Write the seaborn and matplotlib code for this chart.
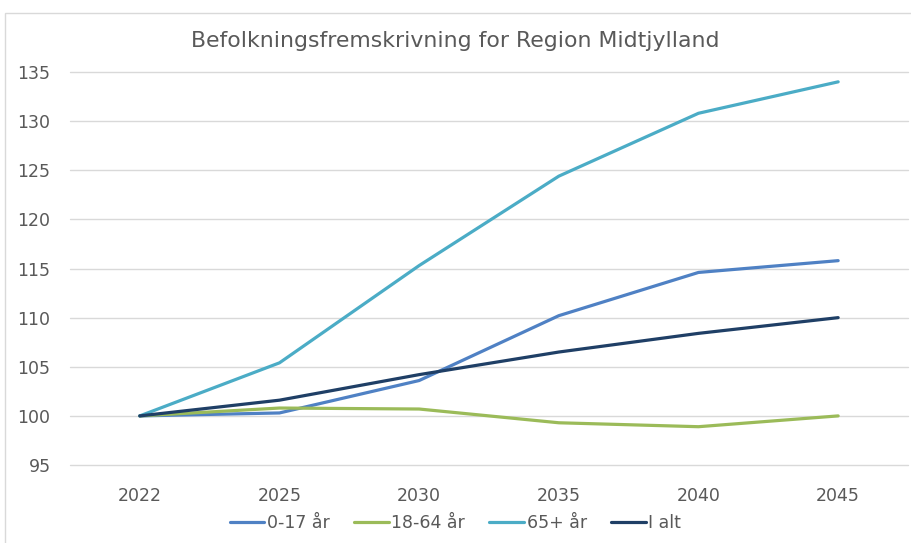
import matplotlib
matplotlib.use('Agg')
import matplotlib.pyplot as plt
from matplotlib.patches import Rectangle
import pandas as pd
import seaborn as sns

years = ['2022', '2025', '2030', '2035', '2040', '2045']
age_0_17 = [100.0, 100.3, 103.6, 110.2, 114.6, 115.8]
age_18_64 = [100.0, 100.8, 100.7, 99.3, 98.9, 100.0]
age_65_plus = [100.0, 105.4, 115.3, 124.4, 130.8, 134.0]
total = [100.0, 101.6, 104.2, 106.5, 108.4, 110.0]

series = {
    '0-17 år': age_0_17,
    '18-64 år': age_18_64,
    '65+ år': age_65_plus,
    'I alt': total,
}
palette = {
    '0-17 år': '#4f81c4',
    '18-64 år': '#9bbb59',
    '65+ år': '#4bacc6',
    'I alt': '#1f3f66',
}

df = pd.DataFrame(
    [(y, v, name) for name, vals in series.items() for y, v in zip(years, vals)],
    columns=['År', 'Indeks', 'Gruppe'],
)

sns.set_style('white')
plt.rcParams['font.family'] = ['DejaVu Sans']
text_color = '#595959'

fig = plt.figure(figsize=(9.11, 5.43), dpi=100)
ax = fig.add_axes([0.0768, 0.1436, 0.9199, 0.7238])

sns.lineplot(data=df, x='År', y='Indeks', hue='Gruppe', palette=palette,
             linewidth=2.3, ax=ax, sort=False)

ax.set_xlim(-0.5, len(years) - 0.5)
ax.set_ylim(95, 135)
ax.set_yticks(range(95, 136, 5))
ax.grid(axis='y', color='#d9d9d9', linewidth=1)
for gl in ax.get_ygridlines():
    gl.set_clip_on(False)
ax.set_axisbelow(True)
for s in ax.spines.values():
    s.set_visible(False)
ax.tick_params(axis='both', length=0, labelsize=12.5, colors=text_color)
ax.tick_params(axis='x', pad=16)
ax.tick_params(axis='y', pad=14)
ax.set_xlabel('')
ax.set_ylabel('')

fig.text(0.5, 0.925, 'Befolkningsfremskrivning for Region Midtjylland',
         ha='center', va='center', fontsize=15.8, color=text_color)

ax.legend(loc='center', bbox_to_anchor=(0.5, 0.037), bbox_transform=fig.transFigure,
          ncol=4, frameon=False, fontsize=12.5, handlelength=2.0,
          handletextpad=0.15, columnspacing=1.4, labelcolor=text_color)

fig.patches.append(Rectangle((0.006, -0.01), 1.0, 0.986, transform=fig.transFigure,
                             fill=False, edgecolor='#d9d9d9', linewidth=1))

fig.savefig('out.png', dpi=100)
